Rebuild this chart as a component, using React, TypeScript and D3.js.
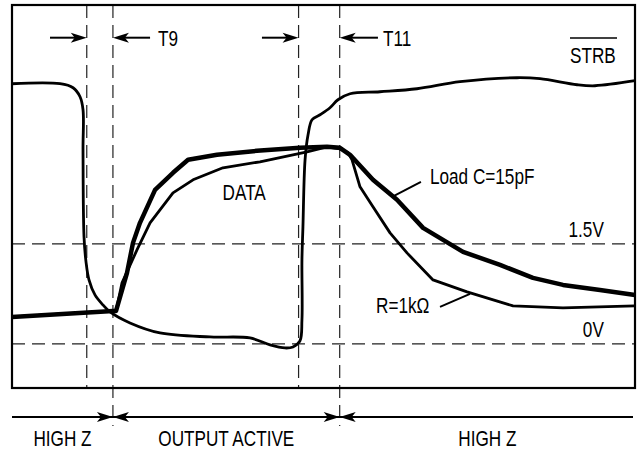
import React from 'react';
import * as d3 from 'd3';

const W = 637;
const H = 451;

// time axis in ns, signal level in volts
const strbT = [0, 3.85, 4.9, 5.46, 5.7, 5.7, 5.78, 5.94, 6.18, 6.66, 7.3, 7.87, 9.47, 11.88, 15.89, 19.1, 20.71, 21.91, 22.55, 23.11, 23.27, 23.27, 23.35, 23.52, 23.76, 24.08, 24.72, 25.52, 26.16, 27.13, 29.53, 32.5, 35.96, 40.53, 42.38, 45.35, 46.79, 50];
const strbV = [3.9, 3.9, 3.84, 3.705, 3.51, 2.91, 1.605, 1.23, 0.96, 0.735, 0.585, 0.48, 0.315, 0.165, 0.105, 0.09, -0.015, -0.06, -0.045, 0.045, 0.36, 1.26, 1.755, 2.76, 3.135, 3.36, 3.435, 3.54, 3.66, 3.75, 3.78, 3.825, 3.93, 3.99, 3.975, 3.885, 3.87, 3.945];

const loadT = [0, 8.11, 8.35, 9.23, 9.71, 10.27, 11.48, 12.92, 14.13, 16.45, 19.66, 23.11, 25.28, 26.32, 27.13, 28.97, 30.9, 32.99, 36.2, 39.17, 41.81, 44.22, 47.19, 50];
const loadV = [0.405, 0.495, 0.495, 1.065, 1.515, 1.815, 2.31, 2.565, 2.76, 2.835, 2.895, 2.94, 2.955, 2.94, 2.835, 2.46, 2.16, 1.74, 1.38, 1.185, 0.99, 0.885, 0.81, 0.735];

const resT = [0, 8.11, 8.35, 8.83, 10.03, 11.08, 12.92, 14.53, 16.93, 19.9, 23.68, 25.28, 26.32, 26.97, 27.29, 27.93, 28.97, 30.34, 31.7, 33.79, 36.52, 40.21, 44.22, 50];
const resV = [0.405, 0.495, 0.495, 0.915, 1.41, 1.815, 2.265, 2.46, 2.64, 2.73, 2.88, 2.955, 2.925, 2.865, 2.76, 2.355, 2.055, 1.665, 1.365, 0.96, 0.78, 0.57, 0.54, 0.57];

const markers = [6.0, 8.1, 23.0, 26.3];
const levels = [1.5, 0];
const levelLabels = ['1.5V', '0V'];
const phases = ['HIGH Z', 'OUTPUT ACTIVE', 'HIGH Z'];
const phaseBounds = [0, 8.1, 26.3, 50];

const x = d3.scaleLinear().domain([0, 50]).range([12, 635]);
const y = d3.scaleLinear().domain([-0.66, 5.08]).range([388, 5]);

const toPts = (t: number[], v: number[]) => t.map((d, i) => [d, v[i]] as [number, number]);

const strbLine = d3.line<[number, number]>()
  .x(d => x(d[0])).y(d => y(d[1]))
  .curve(d3.curveCatmullRom.alpha(0.5));
const dataLine = d3.line<[number, number]>()
  .x(d => x(d[0])).y(d => y(d[1]))
  .curve(d3.curveLinear);

const FONT = "'Liberation Sans', Arial, Helvetica, sans-serif";

// narrow lettering like the original (condensed Helvetica)
const Label = ({ px, py, anchor = 'start', children }: any) => (
  <text transform={`translate(${px},${py}) scale(0.78,1)`} textAnchor={anchor}
    fontFamily={FONT} fontSize={22} fill="#000">{children}</text>
);

// filled arrow head, tip at (tx,ty), dir 1 = pointing right
const head = (tx: number, ty: number, dir: number) =>
  `M${tx},${ty}L${tx - dir * 16},${ty - 5}L${tx - dir * 12},${ty}L${tx - dir * 16},${ty + 5}Z`;

export default function App() {
  const arrowY = y(4.59);
  const lineY = 417;
  const dash = '13,7';
  return (
    <svg width={W} height={H} style={{ position: 'absolute', left: 0, top: 0, background: '#fff' }}>
      {/* reference levels */}
      {levels.map((l, i) => (
        <g key={'l' + i}>
          <line x1={x(0)} x2={x(50)} y1={y(l)} y2={y(l)} stroke="#222" strokeWidth={1.2} strokeDasharray={dash} />
          <Label px={x(47.5)} py={y(l) - 7} anchor="end">{levelLabels[i]}</Label>
        </g>
      ))}
      {/* timing markers */}
      {markers.map((m, i) => (
        <line key={'m' + i} x1={x(m)} x2={x(m)} y1={y(5.08)} y2={i % 2 ? 426 : y(-0.66)}
          stroke="#222" strokeWidth={1.2} strokeDasharray={dash} />
      ))}

      {/* traces */}
      <path d={dataLine(toPts(resT, resV)) || ''} fill="none" stroke="#000" strokeWidth={2.8} strokeLinejoin="round" />
      <path d={dataLine(toPts(loadT, loadV)) || ''} fill="none" stroke="#000" strokeWidth={4.5} strokeLinejoin="round" />
      <path d={strbLine(toPts(strbT, strbV)) || ''} fill="none" stroke="#000" strokeWidth={2.8} strokeLinejoin="round" />

      {/* frame */}
      <rect x={x(0)} y={y(5.08)} width={x(50) - x(0)} height={y(-0.66) - y(5.08)} fill="none" stroke="#000" strokeWidth={2.2} />

      {/* T9 / T11 arrows */}
      <line x1={x(3.05)} x2={x(markers[0]) - 10} y1={arrowY} y2={arrowY} stroke="#000" strokeWidth={2} />
      <path d={head(x(markers[0]), arrowY, 1)} fill="#000" />
      <line x1={x(markers[1]) + 10} x2={x(11.08)} y1={arrowY} y2={arrowY} stroke="#000" strokeWidth={2} />
      <path d={head(x(markers[1]), arrowY, -1)} fill="#000" />
      <line x1={x(20.06)} x2={x(markers[2]) - 10} y1={arrowY} y2={arrowY} stroke="#000" strokeWidth={2} />
      <path d={head(x(markers[2]), arrowY, 1)} fill="#000" />
      <line x1={x(markers[3]) + 10} x2={x(29.37)} y1={arrowY} y2={arrowY} stroke="#000" strokeWidth={2} />
      <path d={head(x(markers[3]), arrowY, -1)} fill="#000" />
      <Label px={158} py={46}>T9</Label>
      <Label px={383} py={46}>T11</Label>

      {/* STRB label with overline */}
      <line x1={570} x2={617} y1={38} y2={38} stroke="#000" strokeWidth={1.3} />
      <Label px={570} py={63}>STRB</Label>

      {/* trace labels */}
      <Label px={x(16.9)} py={200}>DATA</Label>
      <line x1={x(30.66)} y1={y(2.22)} x2={x(32.82)} y2={y(2.43)} stroke="#000" strokeWidth={2} />
      <Label px={430} py={184}>Load C=15pF</Label>
      <line x1={x(34.35)} y1={y(0.555)} x2={x(36.76)} y2={y(0.75)} stroke="#000" strokeWidth={2} />
      <Label px={376} py={313}>R=1kΩ</Label>

      {/* phase timeline */}
      <line x1={x(0)} x2={633} y1={lineY} y2={lineY} stroke="#000" strokeWidth={2.2} />
      {[markers[1], markers[3]].map((m, i) => (
        <g key={'p' + i}>
          <path d={head(x(m), lineY, 1)} fill="#000" />
          <path d={head(x(m), lineY, -1)} fill="#000" />
        </g>
      ))}
      {phases.map((p, i) => (
        <Label key={'ph' + i} px={x((phaseBounds[i] + phaseBounds[i + 1]) / 2)} py={446} anchor="middle">{p}</Label>
      ))}
    </svg>
  );
}
